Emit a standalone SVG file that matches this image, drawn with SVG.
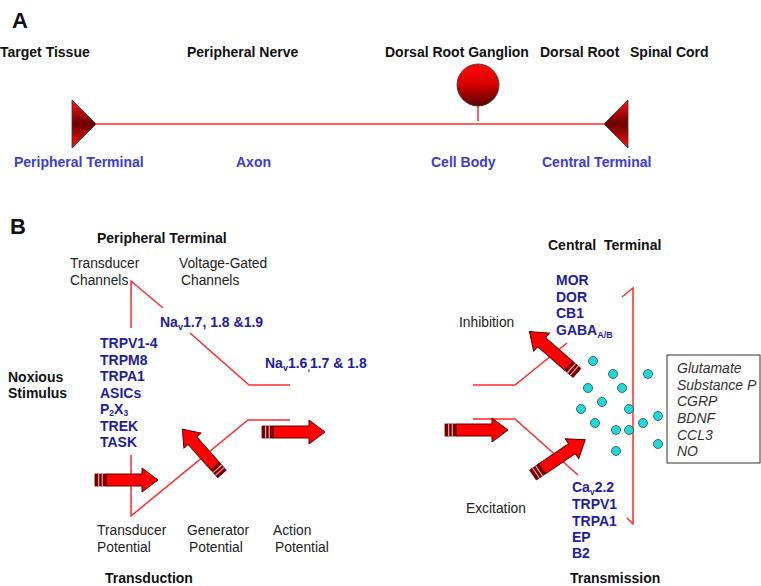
<svg xmlns="http://www.w3.org/2000/svg" width="761" height="586" viewBox="0 0 761 586">
<style>
text{font-family:"Liberation Sans",Arial,sans-serif;}
.h{font-weight:bold;font-size:14px;fill:#111;}
.big{font-weight:bold;font-size:22px;fill:#111;}
.ba{font-weight:bold;font-size:14px;fill:#3c3cd2;}
.bb{font-weight:bold;font-size:14px;fill:#1e1e9e;}
.n{font-size:13.8px;fill:#222;}
.it{font-style:italic;font-size:14px;fill:#333;}
.mem{fill:none;stroke:#ff2a2a;stroke-width:1.5;}
.dot{fill:#22d8d8;stroke:#2a4a4a;stroke-width:0.8;}
</style>
<defs>
<linearGradient id="tg" x1="0" y1="0" x2="0" y2="1">
<stop offset="0" stop-color="#ff1010"/>
<stop offset="0.5" stop-color="#6a0000"/>
<stop offset="1" stop-color="#ff1010"/>
</linearGradient>
<linearGradient id="cg" x1="0" y1="0" x2="0" y2="1">
<stop offset="0" stop-color="#ff0a0a"/>
<stop offset="0.45" stop-color="#dd0000"/>
<stop offset="1" stop-color="#5a0000"/>
</linearGradient>
<g id="arrow">
<path d="M11,-6 H47 V-12 L63,0 L47,12 V6 H11 Z" fill="#ff0000" stroke="#5a0000" stroke-width="1"/>
<rect x="0" y="-6" width="11" height="12" fill="#7a0000" stroke="#5a0000" stroke-width="0.8"/>
<line x1="3.6" y1="-6" x2="3.6" y2="6" stroke="#e8a0a0" stroke-width="1.2"/>
<line x1="7.3" y1="-6" x2="7.3" y2="6" stroke="#e8a0a0" stroke-width="1.2"/>
</g>
</defs>
<rect width="761" height="586" fill="#fff"/>

<!-- Panel A -->
<text class="big" x="12" y="28">A</text>
<g id="connectors">
<line class="mem" x1="96" y1="124" x2="604" y2="124"/>
<line class="mem" x1="478" y1="106" x2="478" y2="121"/>
<polyline class="mem" points="163,308 131,281 131,328"/>
<polyline class="mem" points="131,455 131,516 248,420 290,420"/>
<polyline class="mem" points="190,333 249,385 290,385"/>
<polyline class="mem" points="473,385 515,385 567,343"/>
<polyline class="mem" points="473,419 515,419 578,475"/>
<polyline class="mem" points="622,297 633,288 633,524 627,518"/>
</g>
<g id="peripheral-terminal-a">
<path d="M72,100 L72,148 L96,124 Z" fill="url(#tg)" stroke="#333" stroke-width="0.8"/>
<text class="h" x="0" y="57">Target Tissue</text>
<text class="ba" x="14" y="167">Peripheral Terminal</text>
</g>
<g id="axon-a">
<text class="h" x="187" y="57">Peripheral Nerve</text>
<text class="ba" x="236" y="167">Axon</text>
</g>
<g id="cell-body-a">
<circle cx="478" cy="85" r="21" fill="url(#cg)" stroke="#333" stroke-width="0.8"/>
<text class="h" x="385" y="57">Dorsal Root Ganglion</text>
<text class="ba" x="431" y="167">Cell Body</text>
</g>
<g id="central-terminal-a">
<path d="M628,100 L628,148 L604,124 Z" fill="url(#tg)" stroke="#333" stroke-width="0.8"/>
<text class="h" x="540" y="57">Dorsal Root</text>
<text class="h" x="630" y="57">Spinal Cord</text>
<text class="ba" x="542" y="167">Central Terminal</text>
</g>

<!-- Panel B -->
<text class="big" x="10" y="234">B</text>
<g id="peripheral-terminal-b">
<text class="h" x="97" y="243">Peripheral Terminal</text>
<text class="n" x="70" y="268">Transducer</text>
<text class="n" x="70" y="285">Channels</text>
<text class="n" x="179" y="268">Voltage-Gated</text>
<text class="n" x="181" y="285">Channels</text>
<text class="bb" x="160" y="327">Na<tspan font-size="9" dy="3">v</tspan><tspan dy="-3">1.7, 1.8 &amp;1.9</tspan></text>
<text class="bb" x="265" y="368">Na<tspan font-size="9" dy="3">v</tspan><tspan dy="-3">1.6</tspan><tspan font-size="9" dy="3">,</tspan><tspan dy="-3">1.7 &amp; 1.8</tspan></text>
<text class="bb" x="100" y="348">TRPV1-4</text>
<text class="bb" x="100" y="364.5">TRPM8</text>
<text class="bb" x="100" y="381">TRPA1</text>
<text class="bb" x="100" y="397.5">ASICs</text>
<text class="bb" x="100" y="413.5">P<tspan font-size="8.5" dy="2.5">2</tspan><tspan dy="-2.5">X</tspan><tspan font-size="8.5" dy="2.5">3</tspan></text>
<text class="bb" x="100" y="430.5">TREK</text>
<text class="bb" x="100" y="447">TASK</text>
</g>
<g id="noxious-stimulus">
<text class="h" x="8" y="382">Noxious</text>
<text class="h" x="8" y="398">Stimulus</text>
</g>
<g id="transduction">
<use href="#arrow" transform="translate(95,480)"/>
<use href="#arrow" transform="translate(222,474) rotate(-131.5) scale(0.95)"/>
<use href="#arrow" transform="translate(262,432)"/>
<text class="n" x="97" y="535">Transducer</text>
<text class="n" x="97" y="552">Potential</text>
<text class="n" x="187" y="535">Generator</text>
<text class="n" x="189" y="552">Potential</text>
<text class="n" x="273" y="535">Action</text>
<text class="n" x="275" y="552">Potential</text>
<text class="h" x="105" y="583">Transduction</text>
</g>
<g id="central-terminal-b">
<text class="h" x="548" y="250">Central&#160; Terminal</text>
<text class="bb" x="556" y="285">MOR</text>
<text class="bb" x="556" y="302">DOR</text>
<text class="bb" x="556" y="318">CB1</text>
<text class="bb" x="556" y="335">GABA<tspan font-size="9" dy="3">A/B</tspan></text>
<text class="n" x="459" y="327">Inhibition</text>
<use href="#arrow" transform="translate(577,373) rotate(-139)"/>
<use href="#arrow" transform="translate(445,430)"/>
<use href="#arrow" transform="translate(533,475) rotate(-34)"/>
<text class="n" x="466" y="513">Excitation</text>
<text class="bb" x="572" y="492">Ca<tspan font-size="8.5" dy="2.5">v</tspan><tspan dy="-2.5">2.2</tspan></text>
<text class="bb" x="572" y="509">TRPV1</text>
<text class="bb" x="572" y="526">TRPA1</text>
<text class="bb" x="572" y="542">EP</text>
<text class="bb" x="572" y="558">B2</text>
<text class="h" x="570" y="583">Transmission</text>
</g>
<g id="vesicles">
<circle class="dot" cx="593" cy="361" r="4.5"/>
<circle class="dot" cx="613" cy="374" r="4.5"/>
<circle class="dot" cx="648" cy="374" r="4.5"/>
<circle class="dot" cx="588" cy="388" r="4.5"/>
<circle class="dot" cx="622" cy="388" r="4.5"/>
<circle class="dot" cx="602" cy="402" r="4.5"/>
<circle class="dot" cx="581" cy="409" r="4.5"/>
<circle class="dot" cx="629" cy="409" r="4.5"/>
<circle class="dot" cx="658" cy="416" r="4.5"/>
<circle class="dot" cx="595" cy="423" r="4.5"/>
<circle class="dot" cx="643" cy="423" r="4.5"/>
<circle class="dot" cx="616" cy="430" r="4.5"/>
<circle class="dot" cx="629" cy="430" r="4.5"/>
<circle class="dot" cx="658" cy="444" r="4.5"/>
<circle class="dot" cx="616" cy="451" r="4.5"/>
</g>
<g id="transmitters">
<rect x="667" y="355" width="93" height="108" fill="#fff" stroke="#333" stroke-width="1"/>
<text class="it" x="677" y="373">Glutamate</text>
<text class="it" x="677" y="390">Substance P</text>
<text class="it" x="677" y="406">CGRP</text>
<text class="it" x="677" y="423">BDNF</text>
<text class="it" x="677" y="440">CCL3</text>
<text class="it" x="677" y="456">NO</text>
</g>
</svg>
